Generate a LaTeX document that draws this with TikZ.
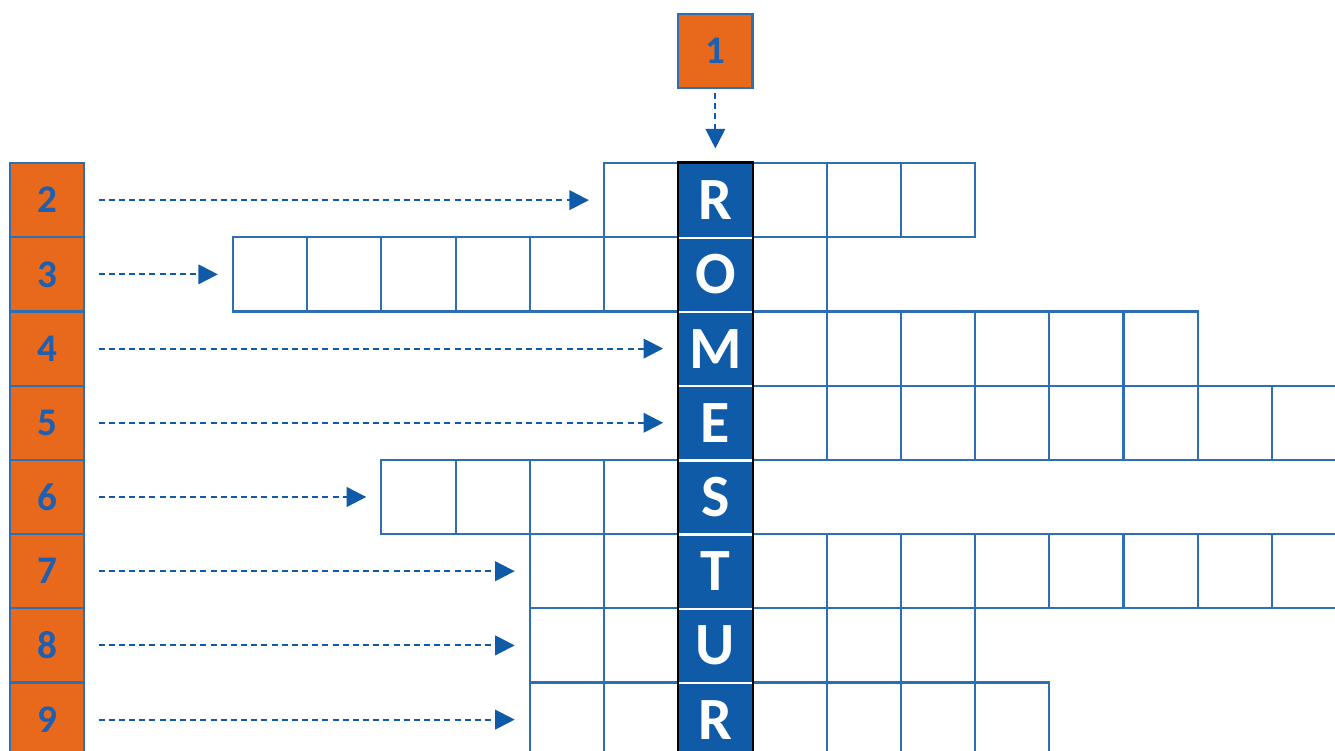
\documentclass[tikz,border=0pt]{standalone}
\usepackage{fontspec}
\setmainfont{Carlito}
\usetikzlibrary{arrows.meta}
\definecolor{cwblue}{HTML}{0F5BA8}
\definecolor{cwline}{HTML}{2E6EB5}
\definecolor{cworange}{HTML}{E8691C}
\definecolor{cwnum}{HTML}{1F5FAF}
\begin{document}
\begin{tikzpicture}[
  cell/.style={draw=cwline, line width=0.8pt, minimum size=1cm, inner sep=0pt},
  keycell/.style={fill=cwblue, minimum size=1cm, inner sep=0pt,
    text=white, font=\bfseries\fontsize{23}{23}\selectfont},
  numbox/.style={fill=cworange, draw=cwline, line width=0.8pt, minimum size=1cm, inner sep=0pt,
    text=cwnum, font=\bfseries\fontsize{15}{15}\selectfont},
  hint/.style={draw=cwblue, line width=0.8pt, dash pattern=on 2.3pt off 1.6pt,
    -{Triangle[length=7.5pt,width=7.5pt]}, shorten <=0.18cm, shorten >=0.19cm}
]
\clip (0,0) rectangle (17.99,-10.12);
\foreach \r/\a/\b in {0/5/9,1/0/7,2/6/12,3/6/14,4/2/6,5/4/14,6/4/9,7/4/10}
  \foreach \c in {\a,...,\b}
    \node[cell] (cell-\r-\c) at (3.64+\c,-2.697-\r) {};
\foreach \r/\l in {0/R,1/O,2/M,3/E,4/S,5/T,6/U,7/R}
  \node[keycell] (letter-\r) at (9.64,-2.697-\r) {\l};
\foreach \r in {0,...,6}
  \draw[white, line width=0.9pt] (letter-\r.south west) -- (letter-\r.south east);
\draw[black, line width=0.9pt] (letter-0.north west) rectangle (letter-7.south east);

\node[numbox] (num-1) at (9.64,-0.689) {1};
\foreach \r/\n in {0/2,1/3,2/4,3/5,4/6,5/7,6/8,7/9}
  \node[numbox] (num-\n) at (0.635,-2.697-\r) {\n};

\foreach \r/\n/\a in {0/2/5,1/3/0,2/4/6,3/5/6,4/6/2,5/7/4,6/8/4,7/9/4}
  \draw[hint] (num-\n.east) -- (cell-\r-\a.west);
\draw[hint, shorten <=0.05cm] (num-1.south) -- (letter-0.north);
\end{tikzpicture}
\end{document}
